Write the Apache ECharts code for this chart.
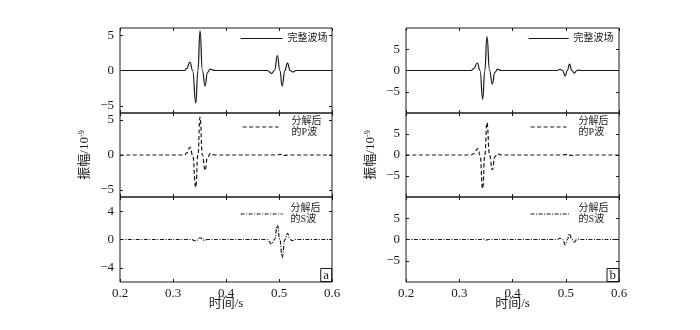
<!DOCTYPE html>
<html>
<head>
<meta charset="utf-8">
<script src="https://cdn.jsdelivr.net/npm/echarts@6/dist/echarts.min.js"></script>
<style>
  html, body { margin: 0; padding: 0; background: #fff; }
  #chart { width: 700px; height: 330px; }
</style>
</head>
<body>
<div id="chart"></div>
<script>
// 时间/s, 振幅/10^-9 —— 读图得到的关键点
const fullA = [[0.2, 0], [0.322, 0], [0.326, 0.3], [0.332, 1.2], [0.337, 0], [0.343, -4.6], [0.347, 0], [0.351, 5.6], [0.3555, 0], [0.3605, -2.2], [0.365, -0.3], [0.370, 0.2], [0.376, 0.05], [0.38, 0],
  [0.478, 0], [0.486, -0.4], [0.4915, 0], [0.497, 2.1], [0.5015, 0], [0.506, -2.2], [0.511, 0], [0.516, 1.05], [0.521, 0], [0.526, -0.2], [0.532, 0], [0.6, 0]]
const pWaveA = [[0.2, 0], [0.322, 0], [0.326, 0.3], [0.332, 1.1], [0.337, 0], [0.343, -4.6], [0.347, 0], [0.351, 5.4], [0.3555, 0], [0.3605, -2.2], [0.365, -0.3], [0.371, 0.23], [0.376, 0.05], [0.38, 0],
  [0.495, 0], [0.502, 0.08], [0.51, -0.05], [0.52, 0], [0.6, 0]]
const sWaveA = [[0.2, 0], [0.335, 0], [0.343, -0.2], [0.351, 0.25], [0.358, -0.1], [0.365, 0],
  [0.478, 0], [0.486, -0.63], [0.4915, 0], [0.497, 2.0], [0.5015, 0], [0.506, -2.5], [0.511, 0], [0.516, 0.86], [0.521, 0], [0.525, -0.15], [0.532, 0], [0.6, 0]]

const fullB = [[0.2, 0], [0.322, 0], [0.327, 0.4], [0.334, 1.76], [0.339, 0], [0.344, -6.8], [0.348, 0], [0.352, 7.95], [0.357, 0], [0.362, -3.2], [0.367, -0.4], [0.372, 0.33], [0.377, 0.05], [0.381, 0],
  [0.484, 0], [0.489, 0.3], [0.494, 0], [0.499, -1.26], [0.503, 0], [0.507, 1.52], [0.5115, 0], [0.516, -0.63], [0.521, 0], [0.524, 0.1], [0.53, 0], [0.6, 0]]
const pWaveB = [[0.2, 0], [0.322, 0], [0.327, 0.3], [0.335, 1.5], [0.339, 0], [0.344, -8.0], [0.348, 0], [0.352, 7.7], [0.357, 0], [0.362, -3.5], [0.367, -0.4], [0.372, 0.3], [0.377, 0.05], [0.381, 0],
  [0.49, 0], [0.5, 0.1], [0.51, -0.1], [0.52, 0], [0.6, 0]]
const sWaveB = [[0.2, 0], [0.34, 0], [0.345, 0.15], [0.35, -0.15], [0.355, 0],
  [0.484, 0], [0.489, 0.3], [0.494, 0], [0.499, -1.2], [0.503, 0], [0.507, 1.3], [0.5115, 0], [0.516, -0.6], [0.521, 0], [0.525, 0.1], [0.53, 0], [0.6, 0]]

const xTicks = [0.2, 0.3, 0.4, 0.5, 0.6]
const yTicksA = [[-5, 0, 5], [-5, 0, 5], [-4, 0, 4]]
const yTicksB = [[-5, 0, 5], [-5, 0, 5], [-5, 0, 5]]
const seriesNames = ['完整波场', '分解后\n的P波', '分解后\n的S波']
const panelTags = ['a', 'b']

const font = '"Liberation Serif", "Noto Sans CJK SC", serif'
const ink = '#1a1a1a'
const lineTypes = ['solid', [4, 2.5], [4, 1.5, 1, 1.5]]

const cols = [
  {left: 120, width: 212, range: 6, ticks: yTicksA, waves: [fullA, pWaveA, sWaveA],
    legends: [{left: 240, top: 33, w: 42, pad: 0}, {left: 242, top: 116, w: 36, pad: 8}, {left: 240, top: 203, w: 42, pad: 3}]},
  {left: 406, width: 213, range: 10, ticks: yTicksB, waves: [fullB, pWaveB, sWaveB],
    legends: [{left: 528, top: 33, w: 40, pad: 0}, {left: 530, top: 116, w: 36, pad: 7}, {left: 530, top: 203, w: 40, pad: 3}]}
]
const tops = [28, 113, 197]
const heights = [85, 84, 85]

const minus = v => (v < 0 ? '\u2212' + (-v) : String(v))

const grid = [], xAxis = [], yAxis = [], series = [], legend = [], title = []

cols.forEach((col, c) => {
  for (let r = 0; r < 3; r++) {
    const g = c * 3 + r
    grid.push({
      left: col.left, top: tops[r], width: col.width, height: heights[r],
      show: true, borderColor: ink, borderWidth: 1, backgroundColor: 'transparent'
    })
    const bottomRow = r === 2
    xAxis.push({
      gridIndex: g, type: 'value', min: 0.2, max: 0.6, position: 'bottom',
      axisLine: {show: false, onZero: false}, splitLine: {show: false},
      axisTick: {inside: true, length: 3, customValues: xTicks, lineStyle: {color: ink}},
      axisLabel: {show: bottomRow, customValues: xTicks, formatter: v => v.toFixed(1),
        fontFamily: font, fontSize: 13, color: ink, margin: 5},
      name: bottomRow ? '时间/s' : '', nameLocation: 'middle', nameGap: 15, nameMoveOverlap: false,
      nameTextStyle: {fontFamily: font, fontSize: 13, color: ink}
    })
    xAxis.push({
      gridIndex: g, type: 'value', min: 0.2, max: 0.6, position: 'top',
      axisLine: {show: false, onZero: false}, splitLine: {show: false},
      axisTick: {inside: true, length: 3, customValues: xTicks, lineStyle: {color: ink}},
      axisLabel: {show: false}
    })
    yAxis.push({
      gridIndex: g, type: 'value', min: -col.range, max: col.range, position: 'left',
      axisLine: {show: false, onZero: false}, splitLine: {show: false},
      axisTick: {inside: true, length: 3, customValues: col.ticks[r], lineStyle: {color: ink}},
      axisLabel: {customValues: col.ticks[r], formatter: minus, fontFamily: font, fontSize: 13, color: ink, margin: 6},
      name: r === 1 ? '振幅/10{s|-9}' : '', nameLocation: 'middle', nameRotate: 90, nameGap: 29, nameMoveOverlap: false,
      nameTextStyle: {fontFamily: font, fontSize: 13, color: ink,
        rich: {s: {fontFamily: font, fontSize: 8, color: ink, verticalAlign: 'top'}}}
    })
    yAxis.push({
      gridIndex: g, type: 'value', min: -col.range, max: col.range, position: 'right',
      axisLine: {show: false, onZero: false}, splitLine: {show: false},
      axisTick: {inside: true, length: 3, customValues: col.ticks[r], lineStyle: {color: ink}},
      axisLabel: {show: false}
    })
    series.push({
      type: 'line', name: seriesNames[r], xAxisIndex: 2 * g, yAxisIndex: 2 * g,
      data: col.waves[r], symbol: 'none', smooth: 0.5, smoothMonotone: 'x',
      lineStyle: {color: ink, width: 1.2, type: lineTypes[r]}, itemStyle: {color: ink},
      silent: true
    })
    const lg = col.legends[r]
    legend.push({
      data: [seriesNames[r]], left: lg.left, top: lg.top, itemWidth: lg.w, itemHeight: 10,
      selectedMode: false, padding: 0,
      itemStyle: {opacity: 0},
      lineStyle: {width: 1.2, color: ink, type: lineTypes[r]},
      textStyle: {fontFamily: font, fontSize: 10, lineHeight: 11, color: ink, padding: [0, 0, 0, lg.pad]}
    })
  }
  title.push({
    text: panelTags[c], right: 700 - col.left - col.width, bottom: 48,
    padding: [1, 3, 0, 3], borderColor: ink, borderWidth: 1, itemGap: 0,
    textStyle: {fontFamily: font, fontSize: 13, fontWeight: 'normal', color: ink}
  })
})

const myChart = echarts.init(document.getElementById('chart'))
myChart.setOption({
  animation: false,
  title,
  grid,
  xAxis,
  yAxis,
  legend,
  series
})
</script>
</body>
</html>
